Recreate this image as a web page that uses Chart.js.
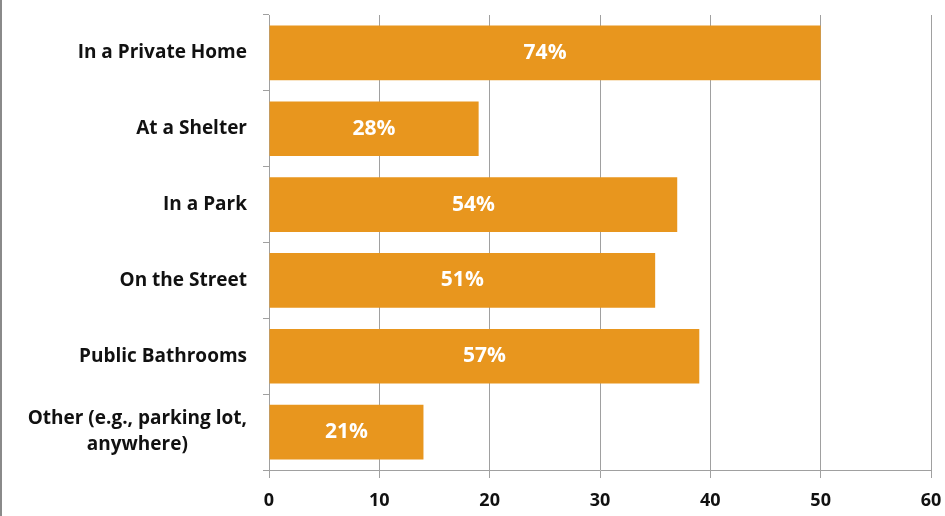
<!DOCTYPE html>
<html>
<head>
<meta charset="utf-8">
<script src="https://cdn.jsdelivr.net/npm/chart.js@4/dist/chart.umd.min.js"></script>
<style>
  html, body { margin: 0; padding: 0; background: #fff; }
  #wrap { width: 945px; height: 516px; }
</style>
</head>
<body>
<div id="wrap"><canvas id="chart"></canvas></div>
<script>
// Daten
const categories = [
  'In a Private Home',
  'At a Shelter',
  'In a Park',
  'On the Street',
  'Public Bathrooms',
  ['Other (e.g., parking lot,', 'anywhere)']
];
const counts = [50, 19, 37, 35, 39, 14];
const percentLabels = ['74%', '28%', '54%', '51%', '57%', '21%'];
const xTicks = [0, 10, 20, 30, 40, 50, 60];

const FONT = "'Open Sans', 'Lato', sans-serif";
const GRID = '#a0a0a0';
const LABEL_FONT = 'bold 19px ' + FONT;

// Prozentwerte in die Balken schreiben
const barLabels = {
  id: 'barLabels',
  afterDatasetsDraw(chart) {
    const ctx = chart.ctx;
    const meta = chart.getDatasetMeta(0);
    ctx.save();
    ctx.fillStyle = '#ffffff';
    ctx.font = 'bold 21px ' + FONT;
    ctx.textAlign = 'center';
    ctx.textBaseline = 'middle';
    meta.data.forEach((bar, i) => {
      const x = (bar.x + bar.base) / 2;
      ctx.fillText(percentLabels[i], x, bar.y);
    });
    ctx.restore();
  }
};

// mehrzeilige Kategorien zentriert setzen
const centeredLabels = {
  id: 'centeredLabels',
  afterDraw(chart) {
    const y = chart.scales.y;
    const ctx = chart.ctx;
    const right = y.right - 6 - 16;
    ctx.save();
    ctx.font = LABEL_FONT;
    ctx.fillStyle = '#111';
    ctx.textAlign = 'center';
    ctx.textBaseline = 'middle';
    categories.forEach((label, i) => {
      if (!Array.isArray(label)) return;
      const w = Math.max(...label.map(l => ctx.measureText(l).width));
      const cx = right - w / 2;
      const cy = y.getPixelForTick(i);
      const lh = 26;
      label.forEach((line, j) => {
        ctx.fillText(line, cx, cy + (j - (label.length - 1) / 2) * lh);
      });
    });
    ctx.restore();
  }
};

// grauer Rand links
const frame = {
  id: 'frame',
  beforeDraw(chart) {
    const ctx = chart.ctx;
    ctx.save();
    ctx.fillStyle = '#8a8a8a';
    ctx.fillRect(0, 0, 2, chart.height);
    ctx.restore();
  }
};

new Chart(document.getElementById('chart'), {
  type: 'bar',
  data: {
    labels: categories,
    datasets: [{
      data: counts,
      backgroundColor: '#e8961e',
      borderWidth: 0,
      barPercentage: 0.72,
      categoryPercentage: 1.0
    }]
  },
  options: {
    indexAxis: 'y',
    responsive: true,
    maintainAspectRatio: false,
    animation: false,
    layout: { padding: { top: 15, right: 14, left: 0, bottom: 0 } },
    plugins: {
      legend: { display: false },
      tooltip: { enabled: false }
    },
    scales: {
      x: {
        min: 0,
        max: 60,
        afterBuildTicks(axis) {
          axis.ticks = xTicks.map(v => ({ value: v }));
        },
        grid: { color: GRID, lineWidth: 1, tickLength: 8 },
        border: { color: GRID, width: 1 },
        ticks: {
          color: '#111',
          padding: 12,
          font: { family: FONT, size: 18, weight: 'bold' }
        },
        afterFit(axis) {
          axis.height = 46;
          axis.paddingLeft = 0;
          axis.paddingRight = 0;
        }
      },
      y: {
        grid: { color: GRID, drawOnChartArea: false, tickLength: 6, offset: true },
        border: { color: GRID, width: 1 },
        ticks: {
          color: '#111',
          padding: 16,
          font: { family: FONT, size: 19, weight: 'bold' },
          // mehrzeilige Labels zeichnet das Plugin selbst
          callback: function(value) {
            const label = this.getLabelForValue(value);
            return Array.isArray(categories[value]) ? '' : label;
          }
        },
        afterFit(axis) {
          axis.width = 269;
          axis.paddingTop = 0;
          axis.paddingBottom = 0;
        }
      }
    }
  },
  plugins: [barLabels, centeredLabels, frame]
});
</script>
</body>
</html>
